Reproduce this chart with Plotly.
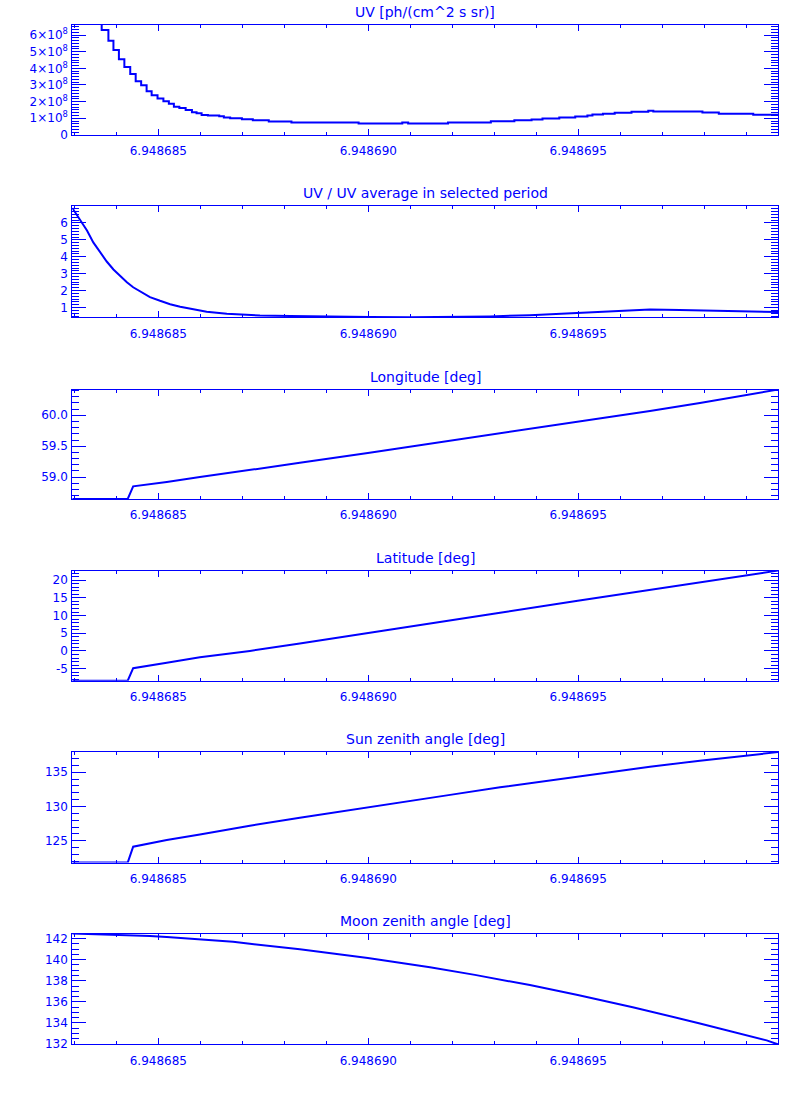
import plotly.graph_objects as go

BLUE = "#0000ff"
FONT = "DejaVu Sans"
W, H = 800, 1100

# ---------------- data ----------------
x_range = [6.94868295, 6.94869976]
x_tick0 = 6.948685
x_dtick = 5e-6
x_minor = 1e-6

# Panel 1: UV (histogram-style steps)
uv_time = [6.94868295, 6.94868365, 6.94868381, 6.94868393, 6.94868406, 6.94868419,
           6.94868433, 6.94868446, 6.94868459, 6.94868472, 6.94868484, 6.94868498,
           6.94868512, 6.94868525, 6.94868537, 6.94868550, 6.94868565, 6.94868580,
           6.94868591, 6.94868603, 6.94868618, 6.94868645, 6.94868656, 6.94868671,
           6.94868699, 6.94868725, 6.94868763, 6.94868817, 6.94868977, 6.94869081,
           6.94869095, 6.94869190, 6.94869292, 6.94869348, 6.94869389, 6.94869415,
           6.94869455, 6.94869493, 6.94869522, 6.94869534, 6.94869559, 6.94869587,
           6.94869627, 6.94869667, 6.94869679, 6.94869796, 6.94869835, 6.94869917,
           6.94869976]
uv_value = [9.5e8, 6.30e8, 5.66e8, 5.11e8, 4.55e8, 4.08e8,
            3.66e8, 3.22e8, 2.98e8, 2.63e8, 2.39e8, 2.19e8,
            2.03e8, 1.87e8, 1.69e8, 1.62e8, 1.50e8, 1.36e8,
            1.30e8, 1.20e8, 1.16e8, 1.12e8, 1.04e8, 1.00e8,
            0.94e8, 0.88e8, 0.80e8, 0.75e8, 0.69e8, 0.75e8,
            0.69e8, 0.75e8, 0.82e8, 0.88e8, 0.92e8, 0.98e8,
            1.04e8, 1.10e8, 1.16e8, 1.22e8, 1.27e8, 1.33e8,
            1.39e8, 1.45e8, 1.40e8, 1.34e8, 1.27e8, 1.21e8,
            1.21e8]
uv_range = [0, 6.6e8]
uv_tickvals = [0, 1e8, 2e8, 3e8, 4e8, 5e8, 6e8]
uv_ticktext = ["0", "1×10<sup>8</sup>", "2×10<sup>8</sup>", "3×10<sup>8</sup>",
               "4×10<sup>8</sup>", "5×10<sup>8</sup>", "6×10<sup>8</sup>"]

# Panel 2: UV / average
ratio_time = [6.94868295, 6.94868314, 6.94868330, 6.94868345, 6.94868361, 6.94868377,
              6.94868393, 6.94868409, 6.94868425, 6.94868440, 6.94868464, 6.94868480,
              6.94868504, 6.94868528, 6.94868552, 6.94868583, 6.94868615, 6.94868663,
              6.94868710, 6.94868742, 6.94868814, 6.94868909, 6.94869004, 6.94869099,
              6.94869195, 6.94869290, 6.94869385, 6.94869456, 6.94869528, 6.94869599,
              6.94869671, 6.94869742, 6.94869814, 6.94869885, 6.94869976]
ratio_value = [6.88, 6.2, 5.55, 4.85, 4.25, 3.72,
               3.25, 2.85, 2.5, 2.2, 1.85, 1.62,
               1.40, 1.20, 1.05, 0.90, 0.76, 0.64,
               0.56, 0.53, 0.50, 0.46, 0.44, 0.43,
               0.44, 0.48, 0.55, 0.63, 0.73, 0.83,
               0.89, 0.86, 0.81, 0.77, 0.74]
ratio_range = [0.42, 6.98]

# Panels 3-5: ephemeris
eph_time = [6.94868295, 6.94868427, 6.94868440, 6.94868480, 6.94868520, 6.94868599,
            6.94868718, 6.94868837, 6.94868999, 6.94869195, 6.94869314, 6.94869499,
            6.94869671, 6.94869790, 6.94869976]
lon_value = [58.647, 58.647, 58.85, 58.88, 58.92, 59.0,
             59.11, 59.23, 59.39, 59.59, 59.71, 59.89,
             60.07, 60.20, 60.417]
lon_range = [58.647, 60.417]
lat_value = [-8.4, -8.4, -4.85, -4.0, -3.3, -1.8,
             0.0, 2.1, 5.0, 8.6, 10.8, 14.2,
             17.3, 19.5, 22.7]
lat_range = [-8.4, 22.7]
lat_tickvals = [-5, 0, 5, 10, 15, 20]
lat_ticktext = ["-5", "0", "5", "10", "15", "20"]
sun_value = [121.8, 121.8, 124.13, 124.6, 125.1, 125.9,
             127.2, 128.35, 129.9, 131.7, 132.8, 134.4,
             135.8, 136.7, 137.95]
sun_range = [121.8, 137.95]

# Panel 6: moon
moon_time = [6.94868295, 6.94868345, 6.94868440, 6.94868480, 6.94868520, 6.94868559,
             6.94868599, 6.94868640, 6.94868678, 6.94868718, 6.94868837, 6.94868999,
             6.94869147, 6.94869254, 6.94869385, 6.94869499, 6.94869630, 6.94869790,
             6.94869949, 6.94869976]
moon_value = [142.47, 142.42, 142.34, 142.25, 142.16, 142.06,
              141.97, 141.84, 141.70, 141.50, 140.98, 140.16,
              139.28, 138.56, 137.59, 136.66, 135.50, 133.96,
              132.35, 131.97]
moon_range = [131.97, 142.47]

titles = ["UV [ph/(cm^2 s sr)]", "UV / UV average in selected period",
          "Longitude [deg]", "Latitude [deg]", "Sun zenith angle [deg]",
          "Moon zenith angle [deg]"]

# ---------------- layout geometry (page pixels) ----------------
x_left_px, x_right_px = 72.3, 778.0
panel_px = [(23.3, 134.0), (206.0, 318.0), (390.7, 501.0),
            (573.3, 684.3), (756.3, 867.7), (939.3, 1051.0)]

series = [
    (uv_time, uv_value, "hv"),
    (ratio_time, ratio_value, "linear"),
    (eph_time, lon_value, "linear"),
    (eph_time, lat_value, "linear"),
    (eph_time, sun_value, "linear"),
    (moon_time, moon_value, "linear"),
]

yspecs = [
    dict(range=uv_range, tickvals=uv_tickvals, ticktext=uv_ticktext, minor=1e8 / 6),
    dict(range=ratio_range, dtick=1, tick0=0, minor=1 / 6),
    dict(range=lon_range, dtick=0.5, tick0=0, minor=0.1, tickformat=".1f"),
    dict(range=lat_range, tickvals=lat_tickvals, ticktext=lat_ticktext, minor=1),
    dict(range=sun_range, dtick=5, tick0=0, minor=1),
    dict(range=moon_range, dtick=2, tick0=0, minor=0.5),
]


def fx(px):
    return px / W


def fy(px):
    return 1 - px / H


fig = go.Figure()
tickfont = dict(family=FONT, size=12, color=BLUE)
layout = dict(width=W, height=H, margin=dict(l=0, r=0, t=0, b=0, pad=0),
              paper_bgcolor="white", plot_bgcolor="white", showlegend=False,
              annotations=[])

xdom = [fx(x_left_px), fx(x_right_px)]

for i, ((t, v, shape), ys, (top, bot)) in enumerate(zip(series, yspecs, panel_px)):
    n = "" if i == 0 else str(i + 1)
    fig.add_trace(go.Scatter(x=t, y=v, mode="lines", line=dict(color=BLUE, width=2, shape=shape),
                             xaxis="x" + n, yaxis="y" + n, hoverinfo="skip"))
    ydom = [fy(bot), fy(top)]
    layout["xaxis" + n] = dict(
        domain=xdom, anchor="y" + n, range=x_range,
        tick0=x_tick0, dtick=x_dtick, tickformat=".6f",
        ticks="inside", ticklen=6, tickwidth=1, tickcolor=BLUE,
        showline=True, linecolor=BLUE, linewidth=1, mirror="ticks",
        showgrid=False, zeroline=False, tickfont=tickfont, ticklabelstandoff=5,
        minor=dict(ticks="inside", ticklen=3, dtick=x_minor, tick0=x_tick0,
                   tickcolor=BLUE, tickwidth=1, showgrid=False),
    )
    yd = dict(
        domain=ydom, anchor="x" + n, range=ys["range"],
        ticks="inside", ticklen=14, tickwidth=1, tickcolor=BLUE,
        showline=True, linecolor=BLUE, linewidth=1, mirror="ticks",
        showgrid=False, zeroline=False, tickfont=tickfont, ticklabelstandoff=1,
        minor=dict(ticks="inside", ticklen=7, dtick=ys["minor"], tick0=0,
                   tickcolor=BLUE, tickwidth=1, showgrid=False),
    )
    if "tickvals" in ys:
        yd.update(tickmode="array", tickvals=ys["tickvals"], ticktext=ys["ticktext"])
    else:
        yd.update(tick0=ys["tick0"], dtick=ys["dtick"])
    if "tickformat" in ys:
        yd["tickformat"] = ys["tickformat"]
    layout["yaxis" + n] = yd
    layout["annotations"].append(dict(
        text=titles[i], xref="paper", yref="paper",
        x=(xdom[0] + xdom[1]) / 2, y=ydom[1], xanchor="center", yanchor="bottom",
        yshift=3, showarrow=False, font=dict(family=FONT, size=14, color=BLUE)))

fig.update_layout(**layout)
# remove the default 8px page margin so the 800x1100 figure fills the window exactly
fig.write_html("out.html",
               config={"displayModeBar": False, "staticPlot": True},
               post_script="document.body.style.margin='0px';document.body.style.overflow='hidden';")
